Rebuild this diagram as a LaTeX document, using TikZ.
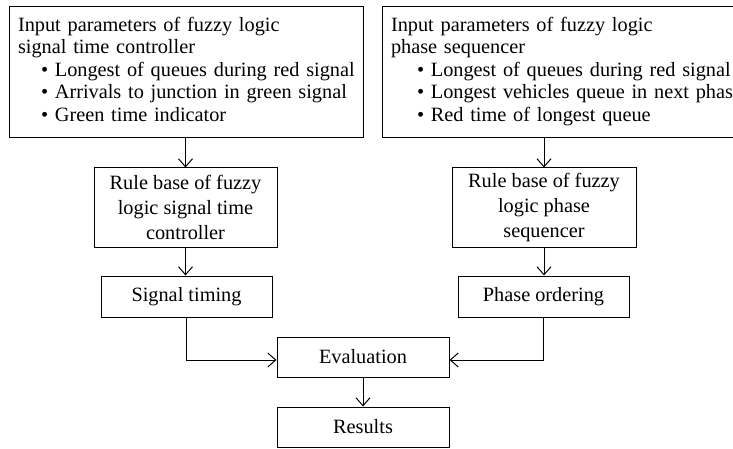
\documentclass[tikz,border=0pt]{standalone}
\usepackage{fontspec}
\setmainfont{Liberation Serif}
\usetikzlibrary{arrows.meta}
\begin{document}
\begin{tikzpicture}[x=1pt,y=-1pt,
  box/.style={draw, line width=1pt, inner sep=0pt, font=\fontsize{20.3}{25}\selectfont},
  inbox/.style={box, anchor=north west, minimum width=354pt, minimum height=131pt,
    text width=337pt, align=left, font=\fontsize{20.3}{22.5}\selectfont},
  arr/.style={-{Straight Barb[length=8pt,width=14pt]}, line width=1pt}]
\useasboundingbox (0,0) rectangle (733,449);
\node[inbox, inner xsep=8.5pt] (inA) at (9,6) {\begin{tabular}{@{}l@{}}
Input parameters of fuzzy logic\\
signal time controller\\
\hspace*{23pt}• Longest of queues during red signal\\
\hspace*{23pt}• Arrivals to junction in green signal\\
\hspace*{23pt}• Green time indicator
\end{tabular}};
\node[inbox, inner xsep=8pt] (inB) at (382,6) {\begin{tabular}{@{}l@{}}
Input parameters of fuzzy logic\\
phase sequencer\\
\hspace*{26pt}• Longest of queues during red signal\\
\hspace*{26pt}• Longest vehicles queue in next phase\\
\hspace*{26pt}• Red time of longest queue
\end{tabular}};
\node[box, minimum width=183pt, minimum height=79pt, align=center] (rA) at (185.5,207.5)
  {Rule base of fuzzy\\logic signal time\\controller};
\node[box, minimum width=184pt, minimum height=79pt, align=center] (rB) at (544,207.5)
  {Rule base of fuzzy\\logic phase\\sequencer};
\node[box, minimum width=171pt, minimum height=41pt] (st) at (186.5,296.5) {Signal timing};
\node[box, minimum width=171pt, minimum height=41pt] (po) at (543.5,296.5) {Phase ordering};
\node[box, minimum width=172pt, minimum height=40pt] (ev) at (363,357) {Evaluation};
\node[box, minimum width=172pt, minimum height=40pt] (res) at (363,427) {Results};
\draw[arr] (rA.north |- inA.south) -- (rA.north);
\draw[arr] (rB.north |- inB.south) -- (rB.north);
\draw[arr] (rA.south) -- (rA.south |- st.north);
\draw[arr] (rB.south) -- (rB.south |- po.north);
\draw[arr] (st.south) |- ([yshift=-3pt]ev.west);
\draw[arr] (po.south) |- ([yshift=-3pt]ev.east);
\draw[arr] (ev) -- (res);
\end{tikzpicture}
\end{document}
